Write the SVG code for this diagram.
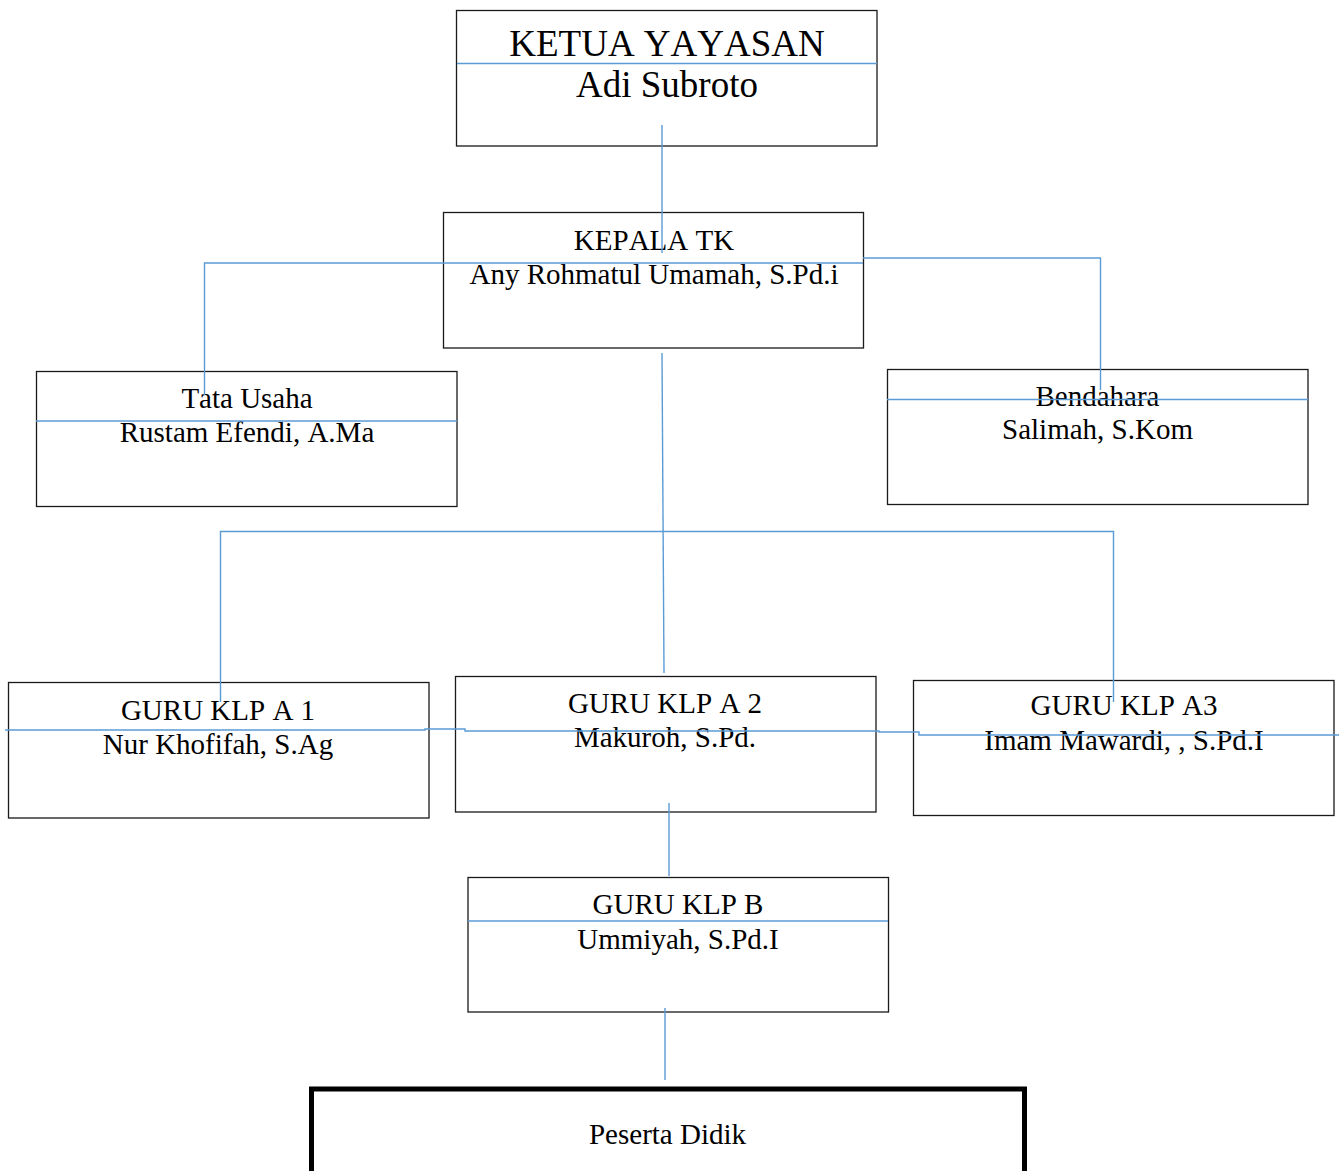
<svg xmlns="http://www.w3.org/2000/svg" width="1339" height="1171" viewBox="0 0 1339 1171">
<style>
.box{fill:#fff;stroke:#1a1a1a;stroke-width:1.3}
.thick{fill:#fff;stroke:#000;stroke-width:5}
.t{font-family:"Liberation Serif","Times New Roman",serif;font-size:29px;fill:#000;text-anchor:middle;font-kerning:none}
.big{font-size:37px}
.c{fill:none;stroke:#5B9BD5;stroke-width:1.4}
</style>
<rect width="1339" height="1171" fill="#fff"/>
<g id="ketua">
<rect class="box" x="456.5" y="10.5" width="420.5" height="135.5"/>
<text class="t big" x="667" y="56">KETUA YAYASAN</text>
<text class="t big" x="667" y="97">Adi Subroto</text>
</g>
<g id="kepala">
<rect class="box" x="443.5" y="212.5" width="420" height="135.5"/>
<text class="t" x="654" y="250">KEPALA TK</text>
<text class="t" x="654" y="284">Any Rohmatul Umamah, S.Pd.i</text>
</g>
<g id="tatausaha">
<rect class="box" x="36.5" y="371.5" width="420.5" height="135"/>
<text class="t" x="247" y="408">Tata Usaha</text>
<text class="t" x="247" y="442">Rustam Efendi, A.Ma</text>
</g>
<g id="bendahara">
<rect class="box" x="887.5" y="369.5" width="420.5" height="135"/>
<text class="t" x="1097.5" y="406">Bendahara</text>
<text class="t" x="1097.5" y="439">Salimah, S.Kom</text>
</g>
<g id="guruA1">
<rect class="box" x="8.5" y="682.5" width="420.5" height="135.5"/>
<text class="t" x="218" y="720">GURU KLP A 1</text>
<text class="t" x="218" y="754">Nur Khofifah, S.Ag</text>
</g>
<g id="guruA2">
<rect class="box" x="455.5" y="676.5" width="420.5" height="135.5"/>
<text class="t" x="665" y="713">GURU KLP A 2</text>
<text class="t" x="665" y="747">Makuroh, S.Pd.</text>
</g>
<g id="guruA3">
<rect class="box" x="913.5" y="680.5" width="420.5" height="135"/>
<text class="t" x="1124" y="715">GURU KLP A3</text>
<text class="t" x="1124" y="750">Imam Mawardi, , S.Pd.I</text>
</g>
<g id="guruB">
<rect class="box" x="468" y="877.5" width="420.5" height="134.5"/>
<text class="t" x="678" y="914">GURU KLP B</text>
<text class="t" x="678" y="949">Ummiyah, S.Pd.I</text>
</g>
<g id="peserta">
<rect class="thick" x="311.5" y="1089" width="713" height="100"/>
<text class="t" x="667.5" y="1144">Peserta Didik</text>
</g>
<g id="connectors">
<line class="c" x1="457" y1="63.5" x2="877" y2="63.5"/>
<line class="c" x1="662" y1="125" x2="662" y2="253"/>
<polyline class="c" points="204.5,395 204.5,263 863,263"/>
<polyline class="c" points="863,258 1100.5,258 1100.5,390"/>
<line class="c" x1="36" y1="421" x2="457" y2="421"/>
<line class="c" x1="887" y1="399.5" x2="1308" y2="399.5"/>
<line class="c" x1="662" y1="353" x2="664" y2="673"/>
<polyline class="c" points="220.5,702 220.5,531.5 1113.5,531.5 1113.5,702"/>
<polyline class="c" points="5,730 425,730 425,729 465,729 465,731 879,731 879,732 919,732 919,735 1339,735"/>
<line class="c" x1="669" y1="803" x2="669" y2="876"/>
<line class="c" x1="468" y1="921" x2="888" y2="921"/>
<line class="c" x1="665" y1="1008" x2="665" y2="1080"/>
</g>
</svg>
